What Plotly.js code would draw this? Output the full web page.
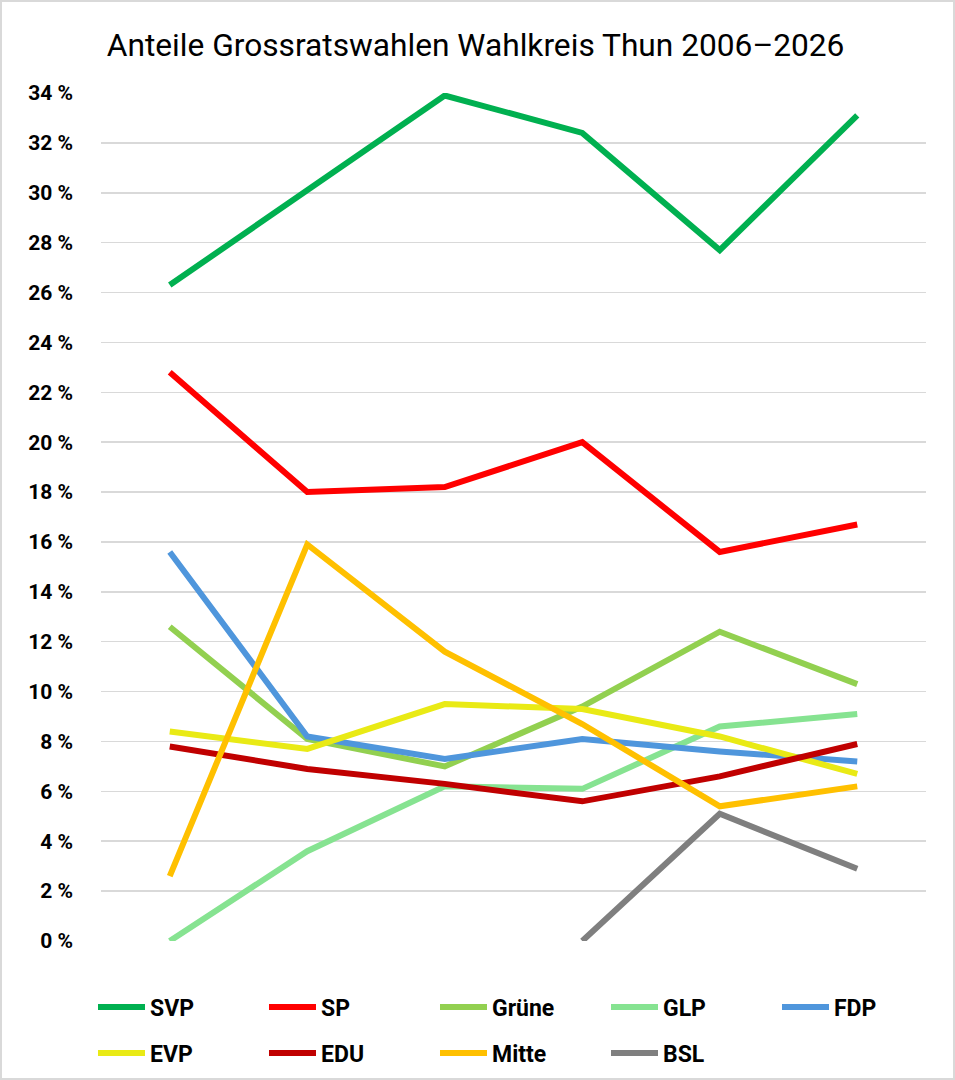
<!DOCTYPE html>
<html>
<head>
<meta charset="utf-8">
<script src="https://cdn.plot.ly/plotly-3.0.1.min.js"></script>
<style>
html,body{margin:0;padding:0;background:#fff;}
#chart{position:absolute;left:0;top:0;width:955px;height:1080px;}
#frame{position:absolute;left:0;top:0;width:955px;height:1080px;box-sizing:border-box;border:2px solid #d9d9d9;pointer-events:none;}
</style>
</head>
<body>
<div id="chart"></div>
<div id="frame"></div>
<script>
const years = ['2006', '2010', '2014', '2018', '2022', '2026'];
const parties = ['SVP', 'SP', 'Grüne', 'GLP', 'FDP', 'EVP', 'EDU', 'Mitte', 'BSL'];
const svp   = [26.3, 30.1, 33.9, 32.4, 27.7, 33.1];
const sp    = [22.8, 18.0, 18.2, 20.0, 15.6, 16.7];
const gruene= [12.6, 8.1, 7.0, 9.4, 12.4, 10.3];
const glp   = [0.0, 3.6, 6.2, 6.1, 8.6, 9.1];
const fdp   = [15.6, 8.2, 7.3, 8.1, 7.6, 7.2];
const evp   = [8.4, 7.7, 9.5, 9.3, 8.2, 6.7];
const edu   = [7.8, 6.9, 6.3, 5.6, 6.6, 7.9];
const mitte = [2.6, 15.9, 11.6, 8.7, 5.4, 6.2];
const bsl   = [null, null, null, 0.0, 5.1, 2.9];
const yTicks = [0, 2, 4, 6, 8, 10, 12, 14, 16, 18, 20, 22, 24, 26, 28, 30, 32, 34];
const yTickLabels = yTicks.map(v => v + ' %');

const series = [svp, sp, gruene, glp, fdp, evp, edu, mitte, bsl];
const colors = ['#00b050', '#ff0000', '#92d050', '#86e391', '#4f96dc', '#e9ea15', '#c00000', '#ffc000', '#7f7f7f'];

const FONT = 'Roboto, "Open Sans", sans-serif';

const traces = series.map((vals, i) => ({
  type: 'scatter',
  mode: 'lines',
  name: parties[i],
  x: years,
  y: vals,
  line: {color: colors[i], width: 6},
  cliponaxis: false,
  connectgaps: false,
  legend: i < 5 ? 'legend' : 'legend2',
  hoverinfo: 'skip'
}));

const legendCommon = {
  orientation: 'h',
  xanchor: 'left',
  yanchor: 'middle',
  x: -0.0097,
  entrywidth: 109,
  entrywidthmode: 'pixels',
  itemwidth: 47,
  bgcolor: 'rgba(0,0,0,0)',
  font: {family: FONT, size: 23, color: '#000', weight: 'bold'},
  traceorder: 'normal'
};

const layout = {
  width: 955,
  height: 1080,
  paper_bgcolor: '#fff',
  plot_bgcolor: '#fff',
  margin: {l: 101, r: 29, t: 93, b: 139, autoexpand: false},
  showlegend: true,
  title: {
    text: 'Anteile Grossratswahlen Wahlkreis Thun 2006–2026',
    font: {family: FONT, size: 31.7, color: '#000'},
    x: 0.498, xanchor: 'center',
    y: 1 - 45 / 1080, yanchor: 'middle'
  },
  xaxis: {
    type: 'category',
    range: [-0.5, 5.5],
    showticklabels: false,
    showgrid: false,
    zeroline: false,
    showline: false,
    ticks: ''
  },
  yaxis: {
    range: [0, 34],
    tickvals: yTicks,
    ticktext: yTickLabels,
    tickfont: {family: FONT, size: 21, color: '#000', weight: 'bold'},
    showgrid: true,
    gridcolor: '#d9d9d9',
    gridwidth: 1.5,
    zeroline: false,
    showline: false,
    ticks: '',
    ticklabelstandoff: 27
  },
  legend: Object.assign({}, legendCommon, {y: (941 - 1007) / 848}),
  legend2: Object.assign({}, legendCommon, {y: (941 - 1053) / 848})
};

Plotly.newPlot('chart', traces, layout, {staticPlot: true, displayModeBar: false});
</script>
</body>
</html>
